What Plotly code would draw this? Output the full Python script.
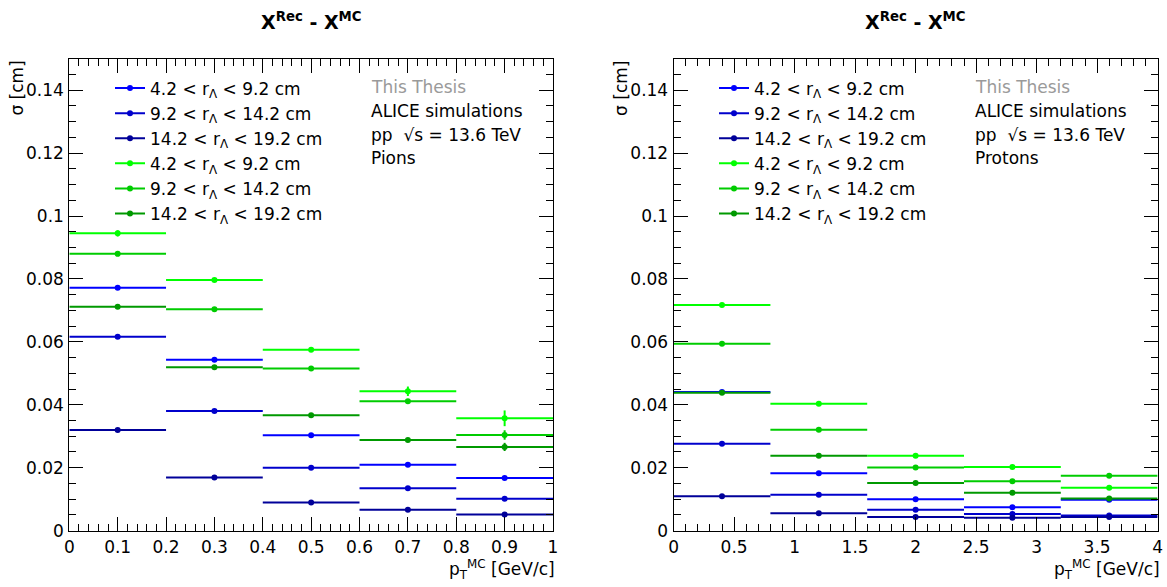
import plotly.graph_objects as go

# ---------------- data ----------------
series_names = ["4.2 < r<sub>Λ</sub> < 9.2 cm", "9.2 < r<sub>Λ</sub> < 14.2 cm", "14.2 < r<sub>Λ</sub> < 19.2 cm",
                "4.2 < r<sub>Λ</sub> < 9.2 cm", "9.2 < r<sub>Λ</sub> < 14.2 cm", "14.2 < r<sub>Λ</sub> < 19.2 cm"]
series_colors = ["#0000ff", "#0000cc", "#000099", "#00ff00", "#00cc00", "#009900"]

# Pions panel (pT bins of width 0.2 GeV/c)
pion_pt = [0.1, 0.3, 0.5, 0.7, 0.9]
pion_halfwidth = [0.1, 0.1, 0.1, 0.1, 0.1]
pion_blue1 = [0.0772, 0.0543, 0.0303, 0.0209, 0.0167]
pion_blue2 = [0.0616, 0.0380, 0.0200, 0.0135, 0.0101]
pion_blue3 = [0.0320, 0.0169, 0.0089, 0.0066, 0.0051]
pion_green1 = [0.0945, 0.0797, 0.0575, 0.0443, 0.0357]
pion_green2 = [0.0880, 0.0704, 0.0515, 0.0411, 0.0304]
pion_green3 = [0.0712, 0.0519, 0.0367, 0.0288, 0.0266]
pion_err_blue1 = [0.0003, 0.0002, 0.0002, 0.0003, 0.0003]
pion_err_blue2 = [0.0003, 0.0002, 0.0002, 0.0002, 0.0002]
pion_err_blue3 = [0.0002, 0.0002, 0.0002, 0.0002, 0.0002]
pion_err_green1 = [0.0010, 0.0004, 0.0004, 0.0015, 0.0025]
pion_err_green2 = [0.0006, 0.0003, 0.0003, 0.0005, 0.0015]
pion_err_green3 = [0.0004, 0.0003, 0.0003, 0.0004, 0.0013]

# Protons panel (pT bins of width 0.8 GeV/c)
proton_pt = [0.4, 1.2, 2.0, 2.8, 3.6]
proton_halfwidth = [0.4, 0.4, 0.4, 0.4, 0.4]
proton_blue1 = [0.0441, 0.0182, 0.0100, 0.0074, 0.0098]
proton_blue2 = [0.0276, 0.0114, 0.0066, 0.0053, 0.0048]
proton_blue3 = [0.0109, 0.0055, 0.0043, 0.0041, 0.0043]
proton_green1 = [0.0717, 0.0403, 0.0238, 0.0202, 0.0136]
proton_green2 = [0.0594, 0.0321, 0.0201, 0.0157, 0.0174]
proton_green3 = [0.0438, 0.0238, 0.0151, 0.0120, 0.0102]
proton_err = [0.0002, 0.0002, 0.0002, 0.0002, 0.0002]

panel_titles = ["X<sup>Rec</sup> - X<sup>MC</sup>", "X<sup>Rec</sup> - X<sup>MC</sup>"]
panel_species = ["Pions", "Protons"]

# ---------------- figure ----------------
FONT = "DejaVu Sans, Liberation Sans, Arial, sans-serif"
FS = 17
W, H = 1167, 587

fig = go.Figure()

panels = [
    dict(xa="x", ya="y", leg="legend", pt=pion_pt, hw=pion_halfwidth,
         vals=[pion_blue1, pion_blue2, pion_blue3, pion_green1, pion_green2, pion_green3],
         errs=[pion_err_blue1, pion_err_blue2, pion_err_blue3, pion_err_green1, pion_err_green2, pion_err_green3]),
    dict(xa="x2", ya="y2", leg="legend2", pt=proton_pt, hw=proton_halfwidth,
         vals=[proton_blue1, proton_blue2, proton_blue3, proton_green1, proton_green2, proton_green3],
         errs=[proton_err] * 6),
]

for p in panels:
    for name, col, v, e in zip(series_names, series_colors, p["vals"], p["errs"]):
        fig.add_trace(go.Scatter(
            x=p["pt"], y=v, mode="markers", xaxis=p["xa"], yaxis=p["ya"],
            marker=dict(color=col, size=6),
            error_x=dict(type="data", array=p["hw"], color=col, thickness=2, width=0),
            error_y=dict(type="data", array=e, color=col, thickness=2, width=0),
            showlegend=False, hoverinfo="x+y"))
    for name, col in zip(series_names, series_colors):
        fig.add_trace(go.Scatter(
            x=[None], y=[None], mode="lines+markers", name=name,
            xaxis=p["xa"], yaxis=p["ya"], legend=p["leg"],
            line=dict(color=col, width=2), marker=dict(color=col, size=6),
            showlegend=True))

xdom = [[69.3 / W, 553.0 / W], [673.6 / W, 1157.6 / W]]
ydom = [(587 - 530.6) / H, (587 - 58.8) / H]

axis_common = dict(showline=True, linecolor="black", linewidth=1, mirror="ticks",
                   ticks="inside", ticklen=14, tickwidth=1, tickcolor="black",
                   showgrid=False, zeroline=False, automargin=False,
                   tickfont=dict(family=FONT, size=FS, color="black"))

fig.update_layout(
    width=W, height=H, margin=dict(l=0, r=0, t=0, b=0, autoexpand=False),
    paper_bgcolor="white", plot_bgcolor="white",
    font=dict(family=FONT, size=FS, color="black"),
    xaxis=dict(domain=xdom[0], range=[0, 1], dtick=0.1, tick0=0, anchor="y",
               minor=dict(dtick=0.02, ticklen=7, ticks="inside", tickcolor="black", showgrid=False),
               ticklabelstandoff=1, **axis_common),
    yaxis=dict(domain=ydom, range=[0, 0.15], dtick=0.02, tick0=0, anchor="x",
               minor=dict(dtick=0.005, ticklen=7, ticks="inside", tickcolor="black", showgrid=False),
               ticklabelstandoff=1, **axis_common),
    xaxis2=dict(domain=xdom[1], range=[0, 4], dtick=0.5, tick0=0, anchor="y2",
                minor=dict(dtick=0.1, ticklen=7, ticks="inside", tickcolor="black", showgrid=False),
                ticklabelstandoff=1, **axis_common),
    yaxis2=dict(domain=ydom, range=[0, 0.15], dtick=0.02, tick0=0, anchor="x2",
                minor=dict(dtick=0.005, ticklen=7, ticks="inside", tickcolor="black", showgrid=False),
                ticklabelstandoff=1, **axis_common),
    legend=dict(x=110 / W, y=1 - 70.5 / H, xanchor="left", yanchor="top",
                bgcolor="rgba(0,0,0,0)", borderwidth=0, tracegroupgap=0,
                font=dict(family=FONT, size=FS, color="black"), itemwidth=30),
    legend2=dict(x=714 / W, y=1 - 70.5 / H, xanchor="left", yanchor="top",
                 bgcolor="rgba(0,0,0,0)", borderwidth=0, tracegroupgap=0,
                 font=dict(family=FONT, size=FS, color="black"), itemwidth=30),
)

annotations = []
for i, (title, species) in enumerate(zip(panel_titles, panel_species)):
    x0, x1 = xdom[i]
    tx = [368.5, 973.0][i] / W
    annotations.append(dict(text="<b>" + title + "</b>", x=(x0 + x1) / 2, y=1 - 21 / H,
                            xref="paper", yref="paper", xanchor="center", yanchor="middle",
                            showarrow=False, font=dict(family=FONT, size=19, color="black")))
    annotations.append(dict(text="This Thesis", x=tx, y=1 - 87.5 / H, xref="paper", yref="paper",
                            xanchor="left", yanchor="middle", showarrow=False,
                            font=dict(family=FONT, size=FS, color="#9a9a9a")))
    annotations.append(dict(text="ALICE simulations", x=tx, y=1 - 110.7 / H, xref="paper", yref="paper",
                            xanchor="left", yanchor="middle", showarrow=False,
                            font=dict(family=FONT, size=FS, color="black")))
    annotations.append(dict(text="pp  √s = 13.6 TeV", x=tx, y=1 - 134.5 / H, xref="paper", yref="paper",
                            xanchor="left", yanchor="middle", showarrow=False,
                            font=dict(family=FONT, size=FS, color="black")))
    annotations.append(dict(text=species, x=tx, y=1 - 158.3 / H, xref="paper", yref="paper",
                            xanchor="left", yanchor="middle", showarrow=False,
                            font=dict(family=FONT, size=FS, color="black")))
    # y-axis title (top aligned, rotated)
    annotations.append(dict(text="σ [cm]", x=(x0 * W - 52) / W, y=ydom[1], xref="paper", yref="paper",
                            xanchor="center", yanchor="top", textangle=-90, showarrow=False,
                            font=dict(family=FONT, size=FS, color="black")))
    # x-axis title (right aligned)
    annotations.append(dict(text="p<sub>T</sub><sup>MC</sup> [GeV/c]", x=(x1 * W + 4) / W, y=1 - 569.5 / H,
                            xref="paper", yref="paper", xanchor="right", yanchor="middle",
                            showarrow=False, font=dict(family=FONT, size=FS, color="black")))

fig.update_layout(annotations=annotations)

fig.write_html("out.html")
